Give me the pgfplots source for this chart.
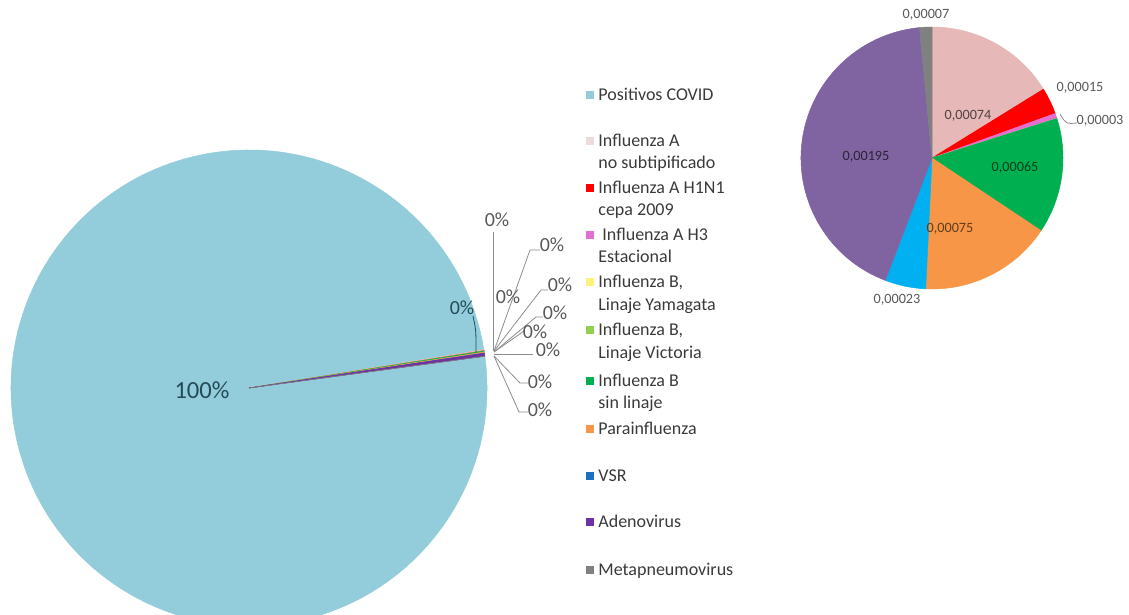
\documentclass[border=0pt]{standalone}
\usepackage{pgfplots}
\pgfplotsset{compat=1.18}
\usepackage{pgfplotstable}
\usepackage{fontspec}
\setmainfont{Carlito}

\definecolor{cCovid}{HTML}{93CDDC}
\definecolor{cInfA}{HTML}{E6B9B8}
\definecolor{cInfAleg}{HTML}{EEDADA}
\definecolor{cH1}{HTML}{FF0000}
\definecolor{cH3}{HTML}{E36FD0}
\definecolor{cYam}{HTML}{FFF27A}
\definecolor{cVic}{HTML}{92D050}
\definecolor{cBsin}{HTML}{00B050}
\definecolor{cPara}{HTML}{F79646}
\definecolor{cVSR}{HTML}{00B0F0}
\definecolor{cVSRleg}{HTML}{1F6FBF}
\definecolor{cAdeno}{HTML}{8064A2}
\definecolor{cAdenoleg}{HTML}{7030A0}
\definecolor{cMeta}{HTML}{808080}
\definecolor{txt}{HTML}{3A3A3A}
\definecolor{lbl}{HTML}{595959}
\definecolor{lead}{HTML}{8C8C8C}
\definecolor{teal}{HTML}{254B57}

\tikzset{legendtxt/.style={anchor=west, text=txt, font=\fontsize{9}{11}\selectfont, inner sep=0pt, text height=1.5ex, text depth=0.3ex}}

% left pie: share of all positives
\pgfplotstableread{
serie value col
Covid 0.99543 cCovid
InfA 0.00074 cInfA
H1N1 0.00015 cH1
H3 0.00003 cH3
Yam 0 cYam
Vic 0 cVic
Bsin 0.00065 cBsin
Para 0.00075 cPara
VSR 0.00023 cVSRleg
Adeno 0.00195 cAdenoleg
Meta 0.00007 cMeta
}\leftpie

% right pie: non-COVID viruses
\pgfplotstableread{
serie value col
InfA 0.00074 cInfA
H1N1 0.00015 cH1
H3 0.00003 cH3
Yam 0 cYam
Vic 0 cVic
Bsin 0.00065 cBsin
Para 0.00075 cPara
VSR 0.00023 cVSR
Adeno 0.00195 cAdeno
Meta 0.00007 cMeta
}\rightpie

% #1 table, #2 cx, #3 cy (axis units), #4 radius (pt), #5 start angle, #6 output macro
\newcommand\buildpie[6]{%
  \pgfplotstablegetrowsof{#1}\edef\nrows{\pgfplotsretval}%
  \def\pietotal{0}%
  \pgfplotsforeachungrouped \i in {1,...,\nrows}{%
    \pgfmathtruncatemacro\ri{\i-1}%
    \pgfplotstablegetelem{\ri}{value}\of{#1}%
    \edef\pietotal{\fpeval{\pietotal+\pgfplotsretval}}%
  }%
  \edef\curang{#5}%
  \gdef#6{}%
  \pgfplotsforeachungrouped \i in {1,...,\nrows}{%
    \pgfmathtruncatemacro\ri{\i-1}%
    \pgfplotstablegetelem{\ri}{value}\of{#1}\edef\v{\pgfplotsretval}%
    \pgfplotstablegetelem{\ri}{col}\of{#1}\edef\c{\pgfplotsretval}%
    \edef\endang{\fpeval{\curang-360*\v/\pietotal}}%
    \xdef#6{\unexpanded\expandafter{#6}\noexpand\fill[\c,draw=\c,line width=0.25pt] (axis cs:#2,#3) -- ++(\curang:#4) arc[start angle=\curang,end angle=\endang,radius=#4] -- cycle;}%
    \edef\curang{\endang}%
  }%
}
\buildpie{\leftpie}{249}{388}{119pt}{7.65}{\pieL}
\buildpie{\rightpie}{932}{158}{65.5pt}{90}{\pieR}

\begin{document}
\begin{tikzpicture}
\path[use as bounding box] (0,0) rectangle (564.5pt,307.5pt);
\clip (0,0) rectangle (564.5pt,307.5pt);
\begin{axis}[
  at={(0,0)}, anchor=south west,
  scale only axis, width=564.5pt, height=307.5pt,
  xmin=0, xmax=1129, ymin=0, ymax=615, y dir=reverse,
  hide axis, clip=false,
]
\pieL
\pieR

% leader lines, left pie
\draw[lead, line width=0.4pt] (axis cs:493,232) -- (axis cs:493,351);
\draw[lead, line width=0.4pt] (axis cs:540,250) -- (axis cs:530,250) -- (axis cs:494,351);
\draw[lead, line width=0.4pt] (axis cs:548,290) -- (axis cs:541,290) -- (axis cs:494,351);
\draw[lead, line width=0.4pt] (axis cs:543,317) -- (axis cs:536,317) -- (axis cs:494,352);
\draw[lead, line width=0.4pt] (axis cs:524,331) -- (axis cs:494,352);
\draw[lead, line width=0.4pt] (axis cs:533,354) -- (axis cs:494,354);
\draw[lead, line width=0.4pt] (axis cs:528,383) -- (axis cs:520,383) -- (axis cs:494,356);
\draw[lead, line width=0.4pt] (axis cs:528,412) -- (axis cs:519,412) -- (axis cs:494,356);
\draw[teal, line width=0.4pt] (axis cs:473,316) .. controls (axis cs:476,330) .. (axis cs:476,352);

% labels, left pie
\node[text=teal, font=\fontsize{12.3}{14}\selectfont] at (axis cs:202,390) {100\%};
\node[text=teal, font=\fontsize{10}{12}\selectfont] at (axis cs:462,308) {0\%};
\begin{scope}[every node/.style={text=lbl, font=\fontsize{10}{12}\selectfont, inner sep=1pt}]
\node at (axis cs:497,220) {0\%};
\node at (axis cs:552,245) {0\%};
\node at (axis cs:508,297) {0\%};
\node at (axis cs:560,285) {0\%};
\node at (axis cs:555,313) {0\%};
\node at (axis cs:535,332) {0\%};
\node at (axis cs:548,350) {0\%};
\node at (axis cs:540,382) {0\%};
\node at (axis cs:540,410) {0\%};
\end{scope}

% labels, right pie
\begin{scope}[every node/.style={font=\fontsize{7.1}{8}\selectfont}]
\node[text=lbl] at (axis cs:926,15) {0,00007};
\node[text=lbl] at (axis cs:1080,88) {0,00015};
\node[text=lbl] at (axis cs:1100,121) {0,00003};
\node[text=lbl] at (axis cs:897,300) {0,00023};
\node[text=cInfA!35!black] at (axis cs:968,116) {0,00074};
\node[text=cBsin!35!black] at (axis cs:1015,168) {0,00065};
\node[text=cPara!40!black] at (axis cs:950,229) {0,00075};
\node[text=cAdeno!35!black] at (axis cs:866,157) {0,00195};
\end{scope}
\draw[lead, line width=0.4pt] (axis cs:1060,114) .. controls (axis cs:1066,124) .. (axis cs:1077,123);

% legend
\addplot[only marks, mark=square*, mark size=1.75pt, color=cCovid] coordinates {(590,95)};
\addplot[only marks, mark=square*, mark size=1.75pt, color=cInfAleg] coordinates {(590,141)};
\addplot[only marks, mark=square*, mark size=1.75pt, color=cH1] coordinates {(590,188)};
\addplot[only marks, mark=square*, mark size=1.75pt, color=cH3] coordinates {(590,235)};
\addplot[only marks, mark=square*, mark size=1.75pt, color=cYam] coordinates {(590,282)};
\addplot[only marks, mark=square*, mark size=1.75pt, color=cVic] coordinates {(590,330)};
\addplot[only marks, mark=square*, mark size=1.75pt, color=cBsin] coordinates {(590,381)};
\addplot[only marks, mark=square*, mark size=1.75pt, color=cPara] coordinates {(590,429)};
\addplot[only marks, mark=square*, mark size=1.75pt, color=cVSRleg] coordinates {(590,476)};
\addplot[only marks, mark=square*, mark size=1.75pt, color=cAdenoleg] coordinates {(590,522)};
\addplot[only marks, mark=square*, mark size=1.75pt, color=cMeta] coordinates {(590,570)};

\node[legendtxt] at (axis cs:598,95) {Positivos COVID};
\node[legendtxt] at (axis cs:598,141) {Influenza A};
\node[legendtxt] at (axis cs:598,163) {no subtipificado};
\node[legendtxt] at (axis cs:598,188) {Influenza A H1N1};
\node[legendtxt] at (axis cs:598,210) {cepa 2009};
\node[legendtxt] at (axis cs:602,235) {Influenza A H3};
\node[legendtxt] at (axis cs:598,257) {Estacional};
\node[legendtxt] at (axis cs:598,282) {Influenza B,};
\node[legendtxt] at (axis cs:598,305) {Linaje Yamagata};
\node[legendtxt] at (axis cs:598,330) {Influenza B,};
\node[legendtxt] at (axis cs:598,353) {Linaje Victoria};
\node[legendtxt] at (axis cs:598,381) {Influenza B};
\node[legendtxt] at (axis cs:598,403) {sin linaje};
\node[legendtxt] at (axis cs:598,429) {Parainfluenza};
\node[legendtxt] at (axis cs:598,476) {VSR};
\node[legendtxt] at (axis cs:598,522) {Adenovirus};
\node[legendtxt] at (axis cs:598,570) {Metapneumovirus};
\end{axis}
\end{tikzpicture}
\end{document}
